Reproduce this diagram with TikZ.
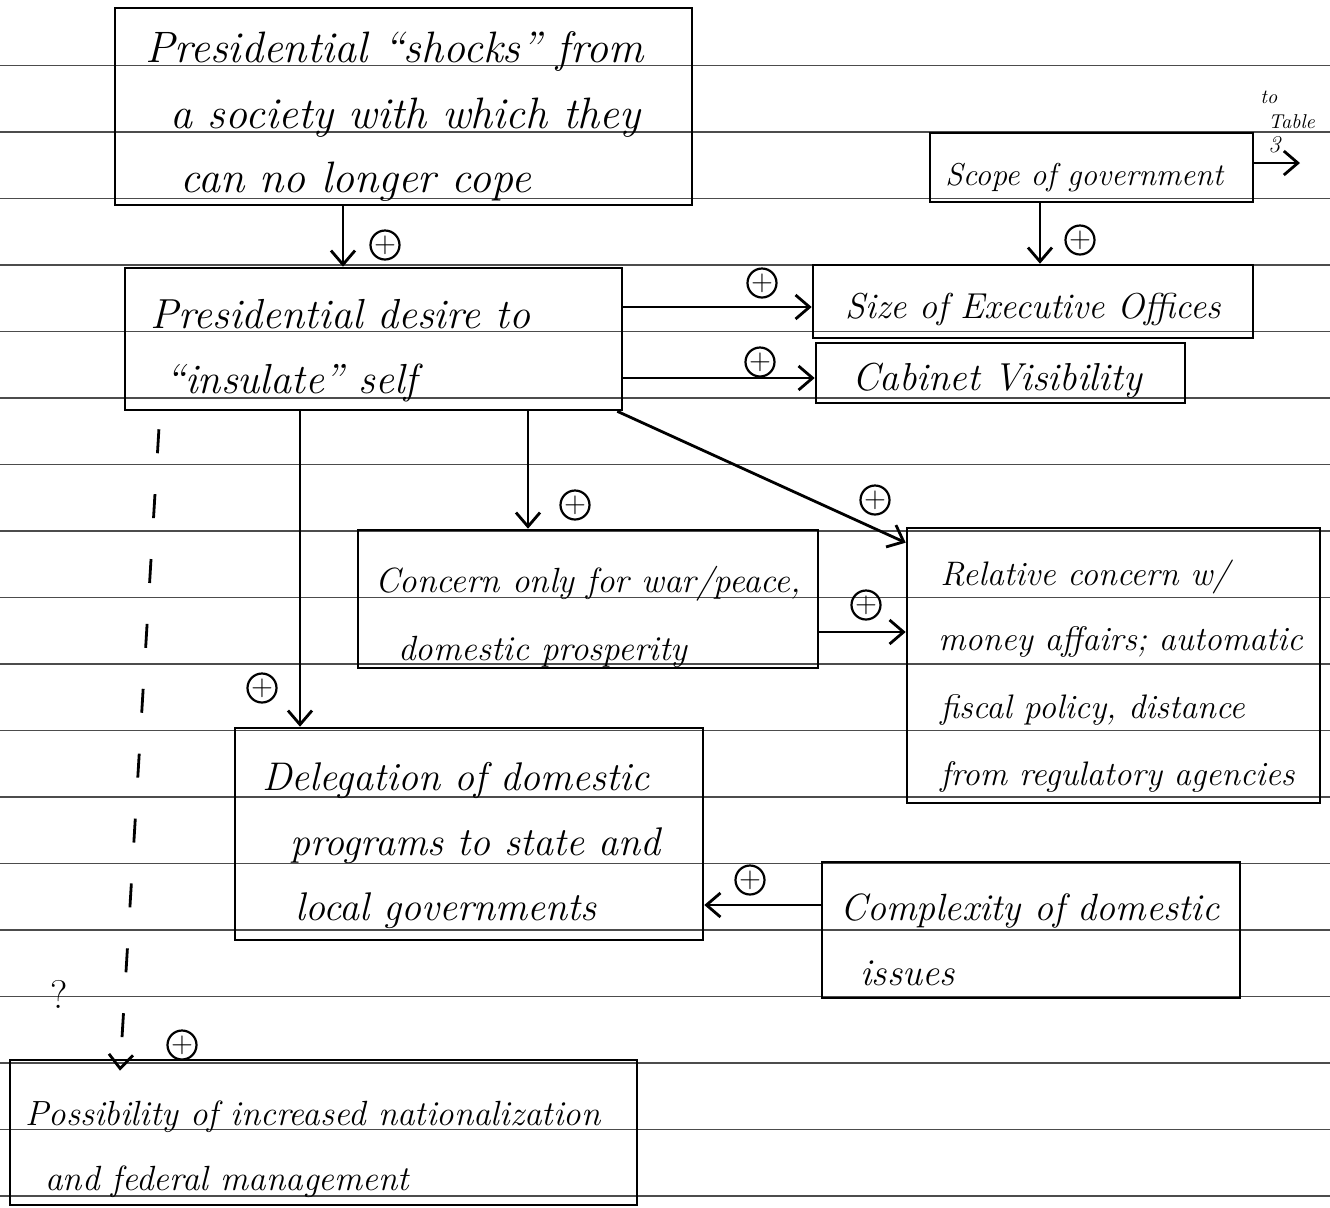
\documentclass[tikz,border=0pt]{standalone}
\usetikzlibrary{arrows.meta,calc}
\begin{document}
\begin{tikzpicture}[x=0.5pt,y=-0.5pt,
 box/.style={draw,line width=1.3pt,inner sep=0pt},
 txt/.style={anchor=base west,inner sep=0pt,font=\fontsize{18}{20}\selectfont\itshape},
 fs/.style={font=\fontsize{#1}{#1}\selectfont\itshape},
 arr/.style={line width=1.4pt,-{Straight Barb[length=7pt,width=12pt,line width=1.4pt]}},
 pl/.style={draw,circle,line width=1.1pt,inner sep=0pt,minimum size=14.5pt,font=\fontsize{14}{14}\selectfont},
 rule/.style={black!70,line width=0.9pt}]
\useasboundingbox (0,0) rectangle (1330,1207);
% ruled paper
\foreach \k in {1,...,18} \draw[rule] (0,{-1+66.5*\k}) -- (1330,{-1+66.5*\k});
% boxes
\node[box,minimum width=288.5pt,minimum height=98.5pt] (shocks) at (403.5,106.5) {};
\node[box,minimum width=161.5pt,minimum height=34.5pt] (scope) at (1091.5,167.5) {};
\node[box,minimum width=248.5pt,minimum height=71pt] (desire) at (373.5,339) {};
\node[box,minimum width=220pt,minimum height=36.5pt] (size) at (1033,301.5) {};
\node[box,minimum width=184.5pt,minimum height=30pt] (cabinet) at (1000.5,373) {};
\node[box,minimum width=230pt,minimum height=69pt] (concern) at (588,599) {};
\node[box,minimum width=206.5pt,minimum height=137.5pt] (relative) at (1113.5,665.5) {};
\node[box,minimum width=234pt,minimum height=106pt] (deleg) at (469,834) {};
\node[box,minimum width=209pt,minimum height=68pt] (complex) at (1031,930) {};
\node[box,minimum width=313.5pt,minimum height=72.5pt] (poss) at (323.5,1132.5) {};
% texts
\node[txt,fs=22] (t1a) at (145,62) {Presidential ``shocks'' from};
\node[txt,fs=22] (t1b) at (170,128) {a society with which they};
\node[txt,fs=22] (t1c) at (180,192) {can no longer cope};
\node[txt,fs=15.8] (t2) at (945,185) {Scope of government};
\node[txt,fs=21] (t3a) at (150,328) {Presidential desire to};
\node[txt,fs=21] (t3b) at (165,393) {``insulate'' self};
\node[txt,fs=18] (t4) at (845,318) {Size of Executive Offices};
\node[txt,fs=19.5] (t5) at (852,390) {Cabinet Visibility};
\node[txt,fs=17.5] (t6a) at (375,592) {Concern only for war/peace,};
\node[txt,fs=17.5] (t6b) at (398,660) {domestic prosperity};
\node[txt,fs=17] (t7a) at (940,585) {Relative concern w/};
\node[txt,fs=17] (t7b) at (938,650) {money affairs; automatic};
\node[txt,fs=17] (t7c) at (940,718) {fiscal policy, distance};
\node[txt,fs=17] (t7d) at (940,785) {from regulatory agencies};
\node[txt,fs=20] (t8a) at (262,790) {Delegation of domestic};
\node[txt,fs=20] (t8b) at (290,855) {programs to state and};
\node[txt,fs=20] (t8c) at (295,920) {local governments};
\node[txt,fs=19] (t9a) at (840,920) {Complexity of domestic};
\node[txt,fs=19] (t9b) at (860,985) {issues};
\node[txt,fs=17.5] (t10a) at (25,1125) {Possibility of increased nationalization};
\node[txt,fs=17.5] (t10b) at (45,1190) {and federal management};
\node[txt,font=\fontsize{20}{20}\selectfont] (q) at (50,1008) {?};
\node[txt,fs=10] (tto) at (1260,103) {to};
\node[txt,fs=10] (ttab) at (1268,128) {Table};
\node[txt,fs=12] (t3n) at (1268,152) {3};
% connectors
\coordinate (tab) at (1300,163);
\draw[arr] (scope.east |- tab) -- (tab);
\draw[arr] (343,0 |- shocks.south) -- (343,0 |- desire.north);
\node[pl] (p1) at (385,245) {$+$};
\draw[arr] (1040,0 |- scope.south) -- (1040,0 |- size.north);
\node[pl] (p2) at (1080,240) {$+$};
\draw[arr] (desire.east |- 0,307) -- (size.west |- 0,307);
\node[pl] (p3) at (762,283) {$+$};
\draw[arr] (desire.east |- 0,378) -- (cabinet.west |- 0,378);
\node[pl] (p4) at (760,362) {$+$};
\draw[arr] (528,0 |- desire.south) -- (528,0 |- concern.north);
\node[pl] (p5) at (575,505) {$+$};
\draw[arr] ([xshift=-3pt]desire.south east) -- ([yshift=-8pt]relative.north west);
\node[pl] (p6) at (875,500) {$+$};
\draw[arr] (300,0 |- desire.south) -- (300,0 |- deleg.north);
\node[pl] (p7) at (262,688) {$+$};
\draw[arr] (concern.east |- 0,632) -- (relative.west |- 0,632);
\node[pl] (p8) at (866,605) {$+$};
\draw[arr] (complex.west |- 0,905) -- (deleg.east |- 0,905);
\node[pl] (p9) at (750,880) {$+$};
\draw[line width=1.4pt,dash pattern=on 12pt off 20.5pt,dash phase=23.5pt,
  -{Straight Barb[length=7pt,width=12pt,line width=1.4pt]}]
  (160,0 |- desire.south) -- ([yshift=-6pt]120,0 |- poss.north);
\node[pl] (p10) at (182,1045) {$+$};
\end{tikzpicture}
\end{document}
